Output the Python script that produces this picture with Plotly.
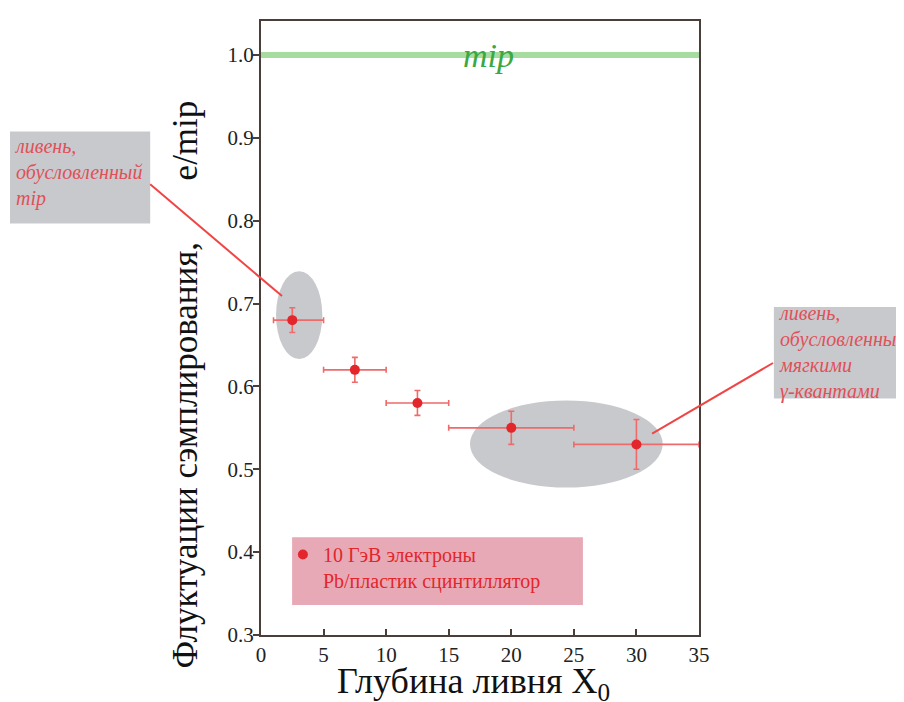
import plotly.graph_objects as go

# ---- data ----
depth = [2.5, 7.5, 12.5, 20, 30]
depth_err_minus = [1.5, 2.5, 2.5, 5, 5]
depth_err_plus = [2.5, 2.5, 2.5, 5, 5]
ratio = [0.68, 0.62, 0.58, 0.55, 0.53]
ratio_err = [0.015, 0.015, 0.015, 0.02, 0.03]
mip_level = 1.0
x_ticks = [0, 5, 10, 15, 20, 25, 30, 35]
y_ticks = [0.3, 0.4, 0.5, 0.6, 0.7, 0.8, 0.9, 1.0]

SERIF = "Liberation Serif, Times New Roman, serif"
RED = "#e3262b"
ERR = "#ef6a6a"
TXT_RED = "#e0505a"
GRAY = "#c8c9cc"
FRAME = "#4a3e3b"

fig = go.Figure()

fig.add_trace(go.Scatter(
    x=depth, y=ratio, mode="markers",
    name="10 ГэВ электроны<br>Pb/пластик сцинтиллятор",
    marker=dict(color=RED, size=10),
    error_x=dict(type="data", symmetric=False, array=depth_err_plus,
                 arrayminus=depth_err_minus, color=ERR, thickness=1.6, width=3),
    error_y=dict(type="data", array=ratio_err, color=ERR, thickness=1.6, width=3),
))

shapes = [
    # mip line
    dict(type="line", xref="paper", yref="y", x0=0, x1=1, y0=mip_level, y1=mip_level,
         line=dict(color="#a6dca0", width=6), layer="below"),
    # ellipses
    dict(type="circle", xref="x", yref="y", x0=1.2, x1=4.9, y0=0.633, y1=0.739,
         fillcolor=GRAY, line=dict(width=0), layer="below"),
    dict(type="circle", xref="x", yref="y", x0=16.7, x1=32.1, y0=0.478, y1=0.583,
         fillcolor=GRAY, line=dict(width=0), layer="below"),
    # legend box
    dict(type="rect", xref="paper", yref="paper", x0=0.071, x1=0.735, y0=0.0487, y1=0.159,
         fillcolor="#e8a9b6", line=dict(width=0), layer="below"),
    # annotation boxes
    dict(type="rect", xref="paper", yref="paper", x0=-0.573, x1=-0.253, y0=0.670, y1=0.820,
         fillcolor=GRAY, line=dict(width=0)),
    dict(type="rect", xref="paper", yref="paper", x0=1.171, x1=1.47, y0=0.385, y1=0.534,
         fillcolor=GRAY, line=dict(width=0)),
    # leader lines
    dict(type="line", xref="paper", yref="paper", x0=-0.253, y0=0.734, x1=0.048, y1=0.552,
         line=dict(color="#f04545", width=2)),
    dict(type="line", xref="paper", yref="paper", x0=1.169, y0=0.443, x1=0.893, y1=0.328,
         line=dict(color="#f04545", width=2)),
]

annotations = [
    dict(text="<i>mip</i>", xref="x", yref="y", x=18.2, y=mip_level, yshift=-1,
         xanchor="center", yanchor="middle",
         showarrow=False, font=dict(family=SERIF, size=34, color="#3aa843")),
    dict(text="<i>ливень,<br>обусловленный<br>mip</i>", xref="paper", yref="paper",
         x=-0.566, y=0.818, xanchor="left", yanchor="top", align="left", showarrow=False,
         font=dict(family=SERIF, size=20, color=TXT_RED)),
    dict(text="<i>ливень,<br>обусловленный<br>мягкими<br>γ-квантами</i>", xref="paper", yref="paper",
         x=1.178, y=0.545, xanchor="left", yanchor="top", align="left", showarrow=False,
         font=dict(family=SERIF, size=20, color=TXT_RED)),
    # y axis title pieces
    dict(text="Флуктуации сэмплирования,", xref="paper", yref="paper",
         x=-0.172, y=0.292, xanchor="center", yanchor="middle", textangle=-90, showarrow=False,
         font=dict(family=SERIF, size=35, color="#111111")),
    dict(text="e/mip", xref="paper", yref="paper",
         x=-0.172, y=0.805, xanchor="center", yanchor="middle", textangle=-90, showarrow=False,
         font=dict(family=SERIF, size=35, color="#111111")),
    # x axis title
    dict(text="Глубина ливня X<sub>0</sub>", xref="paper", yref="paper",
         x=0.486, y=-0.079, xanchor="center", yanchor="middle", showarrow=False,
         font=dict(family=SERIF, size=36, color="#111111")),
]

fig.update_layout(
    width=896, height=694,
    margin=dict(l=253, r=205, t=11, b=67),
    paper_bgcolor="white", plot_bgcolor="white",
    shapes=shapes, annotations=annotations,
    showlegend=True,
    legend=dict(x=0.05, y=0.163, xanchor="left", yanchor="top", bgcolor="rgba(0,0,0,0)",
                font=dict(family=SERIF, size=20, color=RED), valign="top",
                itemwidth=30, tracegroupgap=0),
    xaxis=dict(range=[0, 35], tickvals=x_ticks, ticks="inside", ticklen=6, tickwidth=1.5,
               tickcolor=FRAME, showline=True, linecolor=FRAME, linewidth=2, mirror=True,
               showgrid=False, zeroline=False,
               tickfont=dict(family=SERIF, size=21, color="#222222")),
    yaxis=dict(range=[0.3, 1.041], tickvals=y_ticks, tickformat=".1f", ticks="outside",
               ticklen=6, tickwidth=1.5, tickcolor=FRAME, showline=True, linecolor=FRAME,
               linewidth=2, mirror=True, showgrid=False, zeroline=False,
               ticklabelstandoff=-5,
               tickfont=dict(family=SERIF, size=21, color="#222222")),
)

fig.write_html("out.html")
